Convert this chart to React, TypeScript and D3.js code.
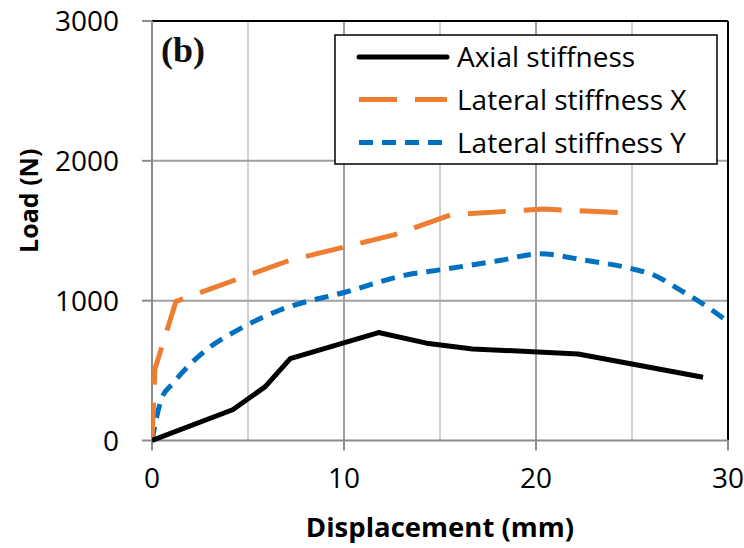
import React from "react";
import * as d3 from "d3";

const axialX = [0, 4.2, 5.9, 7.2, 11.8, 14.3, 16.7, 22.2, 28.7];
const axialY = [0, 220, 385, 585, 772, 696, 655, 619, 452];

const latXx = [0, 0.15, 1.25, 7.2, 12.6, 15.6, 20.4, 25.1];
const latXy = [0, 510, 995, 1290, 1470, 1615, 1655, 1626];

const latYx = [0, 0.5, 1.1, 2.8, 4.6, 6.7, 10.1, 13.3, 15.0, 18.1, 20.2, 22.5, 25.1, 26.1, 27.5, 28.5, 30];
const latYy = [0, 300, 410, 645, 800, 935, 1062, 1185, 1220, 1287, 1335, 1290, 1225, 1185, 1077, 994, 850];

const xTicks = [0, 10, 20, 30];
const yTicks = [0, 1000, 2000, 3000];
const xGrid = [5, 10, 15, 20, 25];
const legendLabels = ["Axial stiffness", "Lateral stiffness X", "Lateral stiffness Y"];

const W = 744, H = 548;
const L = 152, R = 728, T = 21, B = 440.5;

export default function App() {
  const x = d3.scaleLinear().domain([0, 30]).range([L, R]);
  const y = d3.scaleLinear().domain([0, 3000]).range([B, T]);
  const zip = (a: number[], b: number[]) => a.map((v, i) => [v, b[i]] as [number, number]);
  const lineStraight = d3.line<[number, number]>().x(d => x(d[0])).y(d => y(d[1]));
  const lineSmooth = d3.line<[number, number]>().x(d => x(d[0])).y(d => y(d[1])).curve(d3.curveMonotoneX);
  const font = "'Open Sans', sans-serif";
  const series = [
    { color: "#000000", dash: "none", w: 5 },
    { color: "#ED7D31", dash: "38 18", w: 5 },
    { color: "#0070C0", dash: "14 9", w: 5 },
  ];
  const legRowY = [57, 99.5, 142.5];
  return (
    <svg width={W} height={H} style={{ position: "fixed", left: 0, top: 0, background: "#fff" }}>
      <defs>
        <clipPath id="plotclip">
          <rect x={L} y={T - 5} width={R - L} height={B - T + 10} />
        </clipPath>
      </defs>
      <rect x={0} y={0} width={W} height={H} fill="#fff" />
      {xGrid.map(v => (
        <line key={"gx" + v} x1={x(v)} x2={x(v)} y1={T} y2={B}
          stroke={v % 10 === 0 ? "#a0a0a0" : "#d0d0d0"} strokeWidth={2} />
      ))}
      {[1000, 2000].map(v => (
        <line key={"gy" + v} x1={L} x2={R} y1={y(v)} y2={y(v)} stroke="#a0a0a0" strokeWidth={2} />
      ))}
      <line x1={L} x2={R} y1={T} y2={T} stroke="#000" strokeWidth={2} />
      <line x1={R} x2={R} y1={T} y2={B} stroke="#000" strokeWidth={2} />
      <line x1={L} x2={L} y1={T} y2={B} stroke="#8c8c8c" strokeWidth={2} />
      <line x1={L} x2={R} y1={B} y2={B} stroke="#8c8c8c" strokeWidth={2} />
      {yTicks.map(v => (
        <g key={"yt" + v}>
          <line x1={L - 10} x2={L} y1={y(v)} y2={y(v)} stroke="#8c8c8c" strokeWidth={2} />
          <text x={119} y={y(v)} dy="0.36em" textAnchor="end" fontFamily={font} fontSize={28} fill="#000">{v}</text>
        </g>
      ))}
      {xTicks.map(v => (
        <g key={"xt" + v}>
          <line x1={x(v)} x2={x(v)} y1={B} y2={B + 10} stroke="#8c8c8c" strokeWidth={2} />
          <text x={x(v)} y={488} textAnchor="middle" fontFamily={font} fontSize={28} fill="#000">{v}</text>
        </g>
      ))}
      <text x={(L + R) / 2} y={537} textAnchor="middle" fontFamily={font} fontWeight="bold" fontSize={27.5} fill="#000">Displacement (mm)</text>
      <text transform={`translate(38,${(T + B) / 2 - 30}) rotate(-90)`} textAnchor="middle" fontFamily={font} fontWeight="bold" fontSize={25} fill="#000">Load (N)</text>
      <g clipPath="url(#plotclip)">
        <path d={lineSmooth(zip(latYx, latYy)) || ""} fill="none" stroke={series[2].color} strokeWidth={series[2].w} strokeDasharray={series[2].dash} />
        <path d={lineStraight(zip(latXx, latXy)) || ""} fill="none" stroke={series[1].color} strokeWidth={series[1].w} strokeDasharray={series[1].dash} strokeLinejoin="round" />
        <path d={lineStraight(zip(axialX, axialY)) || ""} fill="none" stroke={series[0].color} strokeWidth={series[0].w} strokeLinejoin="round" />
      </g>
      <text x={161} y={62} fontFamily="'Liberation Serif', serif" fontWeight="bold" fontSize={36} fill="#111">(b)</text>
      <rect x={335} y={35} width={382} height={129} fill="#fff" stroke="#000" strokeWidth={1.5} />
      {legendLabels.map((lab, i) => (
        <g key={lab}>
          <line x1={359} x2={447} y1={legRowY[i]} y2={legRowY[i]} stroke={series[i].color} strokeWidth={series[i].w}
            strokeDasharray={series[i].dash === "none" ? undefined : series[i].dash} strokeLinecap={i === 0 ? "round" : "butt"} />
          <text x={457} y={legRowY[i]} dy="0.36em" fontFamily={font} fontSize={28} fill="#000">{lab}</text>
        </g>
      ))}
    </svg>
  );
}
